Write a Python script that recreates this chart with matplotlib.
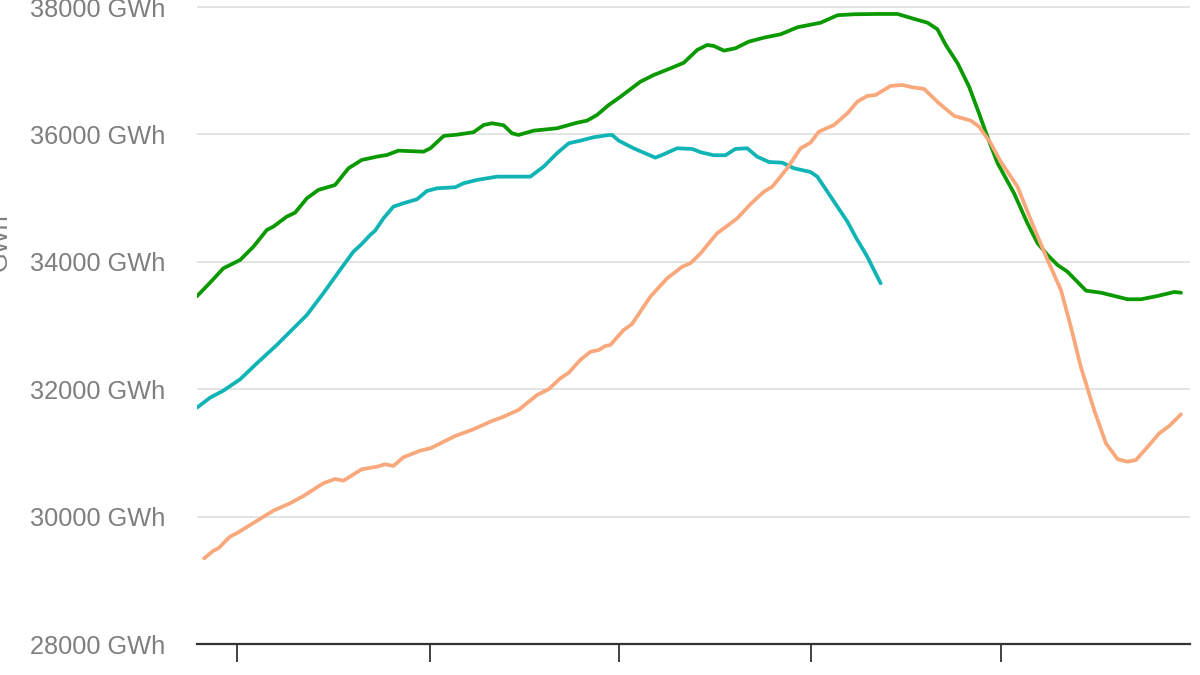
import matplotlib
matplotlib.use("Agg")
import matplotlib.pyplot as plt

plt.rcParams["font.family"] = ["Liberation Sans", "DejaVu Sans"]

# x in days from start of the period, y in GWh
green_x = [0, 4.2, 8.5, 13.9, 18.2, 22.5, 24.6, 28.9, 31.6, 35.4, 39.1, 44.5, 48.8, 53.1,
           58.0, 61.2, 64.9, 73.0, 75.2, 79.5, 83.8, 89.1, 92.4, 95.1, 98.8, 101.5, 103.6,
           108.5, 116.0, 122.5, 125.7, 128.9, 132.7, 136.5, 142.9, 147.2, 152.6, 156.9,
           161.2, 164.4, 166.5, 169.8, 173.5, 177.8, 182.7, 188.1, 193.5, 201.0, 206.4,
           211.7, 219.3, 225.7, 231.1, 235.4, 238.6, 241.3, 245.1, 248.8, 252.0, 254.7,
           258.0, 263.3, 267.6, 270.9, 274.1, 277.3, 280.5, 286.5, 291.3, 295.6, 299.9,
           304.2, 309.6, 314.9, 317.1]
green_y = [33460, 33672, 33898, 34029, 34238, 34500, 34552, 34709, 34771, 34997, 35128,
           35206, 35468, 35599, 35651, 35677, 35745, 35729, 35782, 35976, 35996, 36034,
           36148, 36175, 36144, 36018, 35991, 36059, 36096, 36184, 36216, 36305, 36462,
           36593, 36828, 36933, 37038, 37126, 37326, 37404, 37389, 37315, 37352, 37456,
           37519, 37572, 37682, 37754, 37871, 37886, 37891, 37891, 37813, 37754, 37651,
           37404, 37117, 36750, 36332, 35965, 35547, 35076, 34605, 34291, 34107, 33950,
           33845, 33547, 33515, 33464, 33412, 33412, 33464, 33526, 33515]

teal_x = [0, 4.2, 8.5, 13.9, 19.3, 25.7, 35.4, 40.7, 46.1, 50.4, 53.1, 55.8, 57.4, 60.1,
          63.3, 66.5, 70.9, 74.1, 77.3, 83.2, 85.9, 90.2, 96.7, 103.1, 107.4, 111.7, 116.0,
          119.8, 123.5, 127.8, 132.7, 133.8, 135.9, 140.7, 147.7, 149.9, 154.7, 159.6,
          162.3, 166.5, 170.3, 173.5, 177.3, 180.5, 184.3, 188.6, 192.4, 197.7, 199.9,
          205.3, 209.6, 212.3, 216.0, 220.3]
teal_y = [31710, 31867, 31977, 32156, 32407, 32694, 33165, 33506, 33872, 34159, 34280,
          34421, 34489, 34683, 34866, 34919, 34982, 35112, 35154, 35170, 35233, 35285,
          35337, 35337, 35337, 35494, 35704, 35861, 35902, 35955, 35991, 35991, 35902,
          35782, 35635, 35677, 35782, 35772, 35720, 35673, 35673, 35772, 35782, 35651,
          35567, 35556, 35468, 35410, 35337, 34944, 34630, 34385, 34081, 33663]

orange_x = [2.3, 5.3, 6.9, 10.6, 12.8, 17.1, 24.6, 30.0, 34.3, 40.7, 44.5, 47.2, 53.1, 58.0,
            60.6, 63.3, 66.5, 71.9, 75.2, 83.2, 89.1, 94.5, 98.8, 103.6, 109.6, 113.3,
            117.1, 119.8, 123.5, 126.8, 129.5, 131.6, 133.2, 137.5, 140.2, 146.1, 151.5,
            156.4, 159.0, 162.3, 167.6, 169.8, 174.1, 178.4, 182.7, 185.4, 190.2, 194.5,
            197.7, 200.4, 205.3, 209.6, 212.8, 216.0, 218.7, 223.5, 227.3, 230.5, 234.3,
            239.1, 244.0, 249.4, 252.0, 255.8, 259.0, 264.4, 268.7, 274.1, 278.4, 281.6,
            284.8, 289.1, 292.9, 296.7, 299.9, 302.6, 306.4, 310.1, 313.3, 317.1]
orange_y = [29345, 29465, 29502, 29685, 29738, 29868, 30093, 30209, 30324, 30523, 30591,
            30564, 30743, 30784, 30821, 30795, 30931, 31035, 31072, 31266, 31371, 31490,
            31569, 31674, 31909, 31999, 32171, 32259, 32459, 32589, 32616, 32679, 32694,
            32930, 33024, 33453, 33741, 33924, 33977, 34134, 34448, 34526, 34683, 34908,
            35101, 35180, 35468, 35782, 35870, 36043, 36148, 36332, 36514, 36604, 36619,
            36761, 36776, 36740, 36714, 36489, 36290, 36216, 36122, 35861, 35572, 35180,
            34657, 34029, 33558, 32982, 32354, 31674, 31151, 30900, 30862, 30889, 31098,
            31308, 31423, 31606]

y_ticks = [28000, 30000, 32000, 34000, 36000, 38000]
x_ticks = [13, 75, 136, 198, 259]

GREEN = "#0a9900"
TEAL = "#10b4b4"
ORANGE = "#f9a87c"
GREY = "#7f7f7f"

fig = plt.figure(figsize=(12, 6.75), dpi=100)
ax = fig.add_axes([197 / 1200, 31 / 675, (1190 - 197) / 1200, 644 / 675])

for xs, ys, col in ((green_x, green_y, GREEN), (teal_x, teal_y, TEAL),
                    (orange_x, orange_y, ORANGE)):
    ax.plot(xs, ys, color=col, linewidth=2.7, solid_capstyle="round",
            solid_joinstyle="round")

ax.set_xlim(0, 320)
ax.set_ylim(28000, 38110)

ax.set_yticks(y_ticks)
ax.set_yticklabels([f"{v} GWh" for v in y_ticks], fontsize=18.3, color=GREY)
ax.tick_params(axis="y", length=0, pad=23)
ax.grid(axis="y", color="#e2e2e2", linewidth=1.3)
ax.set_axisbelow(True)

ax.set_xticks(x_ticks)
ax.set_xticklabels([""] * len(x_ticks))
ax.tick_params(axis="x", length=13, width=1.3, color="#333333", direction="out")

for side in ("top", "right", "left"):
    ax.spines[side].set_visible(False)
ax.spines["bottom"].set_color("#333333")
ax.spines["bottom"].set_linewidth(1.6)

fig.text(0.0, (675 - 242) / 675, "GWh", rotation=90, fontsize=18.3, color=GREY,
         ha="center", va="center")

fig.savefig("out.png", dpi=100)
